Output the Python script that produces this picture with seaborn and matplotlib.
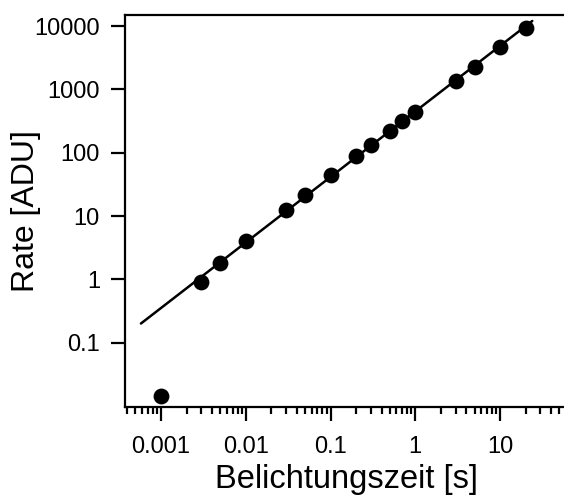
import numpy as np
import pandas as pd
import matplotlib
matplotlib.use("Agg")
import matplotlib.pyplot as plt
import matplotlib.ticker as mticker
import seaborn as sns

# ----------------------------------------------------
# Datos: tiempo de exposición vs. tasa medida
# ----------------------------------------------------
belichtungszeit = [0.001, 0.003, 0.005, 0.01, 0.03, 0.05, 0.1, 0.2, 0.3,
                   0.5, 0.7, 1, 3, 5, 10, 20]
rate = [0.0146, 0.92, 1.79, 4.08, 12.7, 21.5, 44.4, 89.7, 132,
        222, 320, 444, 1371, 2280, 4720, 9420]

x_ticks = [0.001, 0.01, 0.1, 1, 10]
x_ticklabels = ["0.001", "0.01", "0.1", "1", "10"]
y_ticks = [0.1, 1, 10, 100, 1000, 10000]
y_ticklabels = ["0.1", "1", "10", "100", "1000", "10000"]

df = pd.DataFrame({"t": belichtungszeit, "rate": rate})

# Ajuste lineal en log-log (sin el primer punto, que queda fuera)
fit_df = df[df["t"] > 0.001]
slope, intercept = np.polyfit(np.log10(fit_df["t"]), np.log10(fit_df["rate"]), 1)
t_fit = np.geomspace(0.00058, 24, 50)
line_df = pd.DataFrame({"t": t_fit, "rate": 10 ** (intercept + slope * np.log10(t_fit))})

# ----------------------------------------------------
# Gráfico
# ----------------------------------------------------
sns.set_style("ticks")
plt.rcParams["font.family"] = ["Liberation Sans", "DejaVu Sans"]
plt.rcParams["text.color"] = "black"
plt.rcParams["axes.labelcolor"] = "black"
plt.rcParams["xtick.color"] = "black"
plt.rcParams["ytick.color"] = "black"

fig = plt.figure(figsize=(5.64, 4.96), dpi=100)
ax = fig.add_axes([0.2216, 0.1794, 0.7872, 0.7903])

sns.lineplot(data=line_df, x="t", y="rate", color="black", linewidth=1.8, ax=ax)
sns.scatterplot(data=df, x="t", y="rate", color="black", s=130, linewidth=0,
                zorder=3, ax=ax)

ax.set_xscale("log")
ax.set_yscale("log")
ax.set_xlim(3.76e-4, 65)
ax.set_ylim(0.0097, 14900)

ax.xaxis.set_major_locator(mticker.FixedLocator(x_ticks))
ax.xaxis.set_major_formatter(mticker.FixedFormatter(x_ticklabels))
ax.xaxis.set_minor_locator(mticker.LogLocator(base=10, subs=np.arange(2, 10)))
ax.xaxis.set_minor_formatter(mticker.NullFormatter())
ax.yaxis.set_major_locator(mticker.FixedLocator(y_ticks))
ax.yaxis.set_major_formatter(mticker.FixedFormatter(y_ticklabels))
ax.yaxis.set_minor_locator(mticker.NullLocator())

ax.tick_params(axis="both", which="major", direction="out", length=10, width=1.6,
               labelsize=17, pad=8, color="black", labelcolor="black")
ax.tick_params(axis="x", which="major", pad=11)
ax.tick_params(axis="x", which="minor", direction="out", length=5, width=1.6,
               color="black")
ax.tick_params(top=False, right=False, which="both")

for side in ["left", "bottom", "top"]:
    ax.spines[side].set_linewidth(1.6)
    ax.spines[side].set_color("black")
ax.spines["right"].set_visible(False)

ax.set_xlabel("Belichtungszeit [s]", fontsize=23.5)
ax.set_ylabel("Rate [ADU]", fontsize=23)
ax.xaxis.set_label_coords(0.5, -0.145)
ax.yaxis.set_label_coords(-0.19, 0.5)

fig.savefig("out.png", dpi=100)
